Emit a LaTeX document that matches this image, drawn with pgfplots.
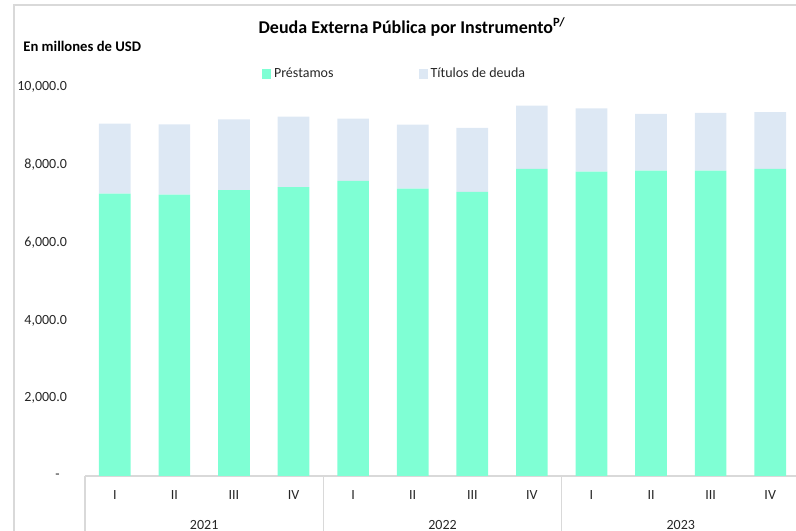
\documentclass[border=0pt]{standalone}
\usepackage{fontspec}
\setmainfont{Carlito}
\usepackage{pgfplots}
\pgfplotsset{compat=1.18}
\definecolor{prest}{RGB}{127,255,212}
\definecolor{titu}{RGB}{221,232,244}
\definecolor{frameg}{RGB}{217,217,217}
\begin{document}
\begin{tikzpicture}
\useasboundingbox (0,0) rectangle (597pt,398.25pt);
\draw[frameg, line width=1pt] (10.5pt,-2pt) -- (10.5pt,394.5pt) -- (600pt,394.5pt);
\node[font=\bfseries\fontsize{13.5}{15}\selectfont] at (309pt,378pt) {Deuda Externa Pública por Instrumento\textsuperscript{P/}};
\node[font=\bfseries\fontsize{11}{13}\selectfont, anchor=west] at (14pt,363.75pt) {En millones de USD};
\begin{axis}[
  at={(63.75pt,41.25pt)}, anchor=south west,
  scale only axis, width=536.25pt, height=291.75pt,
  ybar stacked, bar width=23.8pt,
  xmin=-0.5, xmax=11.5, ymin=0, ymax=10000,
  scaled y ticks=false,
  axis x line*=bottom, axis y line*=left,
  x axis line style={draw=frameg, line width=0.8pt, -},
  y axis line style={draw=none},
  major tick length=0pt,
  xtick={0,...,11},
  xticklabels={I,II,III,IV,I,II,III,IV,I,II,III,IV},
  ytick={0,2000,4000,6000,8000,10000},
  yticklabels={{-\hspace*{5.5pt}},{2,000.0},{4,000.0},{6,000.0},{8,000.0},{10,000.0}},
  tick label style={font=\fontsize{10.5}{12}\selectfont, text=black!85},
  xticklabel style={anchor=center, yshift=-14pt},
  yticklabel style={anchor=east, xshift=-10pt},
  clip=false,
  legend style={at={(0.2476,1)}, anchor=west, yshift=9.75pt, draw=none, fill=none,
    inner sep=0pt, font=\fontsize{10.5}{12}\selectfont, text=black!85,
    /tikz/every even column/.append style={column sep=62pt}},
  legend columns=2,
]
\addplot[fill=prest, draw=none, legend image code/.code={\fill[prest] (0pt,-3.4pt) rectangle (6.8pt,3.4pt);}] coordinates {
 (0,7257) (1,7231) (2,7352) (3,7429) (4,7584) (5,7386) (6,7301) (7,7892) (8,7823) (9,7848) (10,7848) (11,7892)};
\addlegendentry{Préstamos}
\addplot[fill=titu, draw=none, legend image code/.code={\fill[titu] (0pt,-3.4pt) rectangle (6.8pt,3.4pt);}] coordinates {
 (0,1800) (1,1810) (2,1818) (3,1808) (4,1601) (5,1645) (6,1645) (7,1627) (8,1629) (9,1458) (10,1484) (11,1465)};
\addlegendentry{Títulos de deuda}
\draw[frameg, line width=0.8pt] (axis cs:-0.5,0) -- ([yshift=-44pt]axis cs:-0.5,0);
\draw[frameg, line width=0.8pt] (axis cs:3.5,0) -- ([yshift=-44pt]axis cs:3.5,0);
\draw[frameg, line width=0.8pt] (axis cs:7.5,0) -- ([yshift=-44pt]axis cs:7.5,0);
\draw[frameg, line width=0.8pt] (axis cs:11.5,0) -- ([yshift=-44pt]axis cs:11.5,0);
\node[font=\fontsize{10.5}{12}\selectfont, text=black!85] at (axis cs:1.5,0) [yshift=-36.5pt] {2021};
\node[font=\fontsize{10.5}{12}\selectfont, text=black!85] at (axis cs:5.5,0) [yshift=-36.5pt] {2022};
\node[font=\fontsize{10.5}{12}\selectfont, text=black!85] at (axis cs:9.5,0) [yshift=-36.5pt] {2023};
\end{axis}
\end{tikzpicture}
\end{document}
